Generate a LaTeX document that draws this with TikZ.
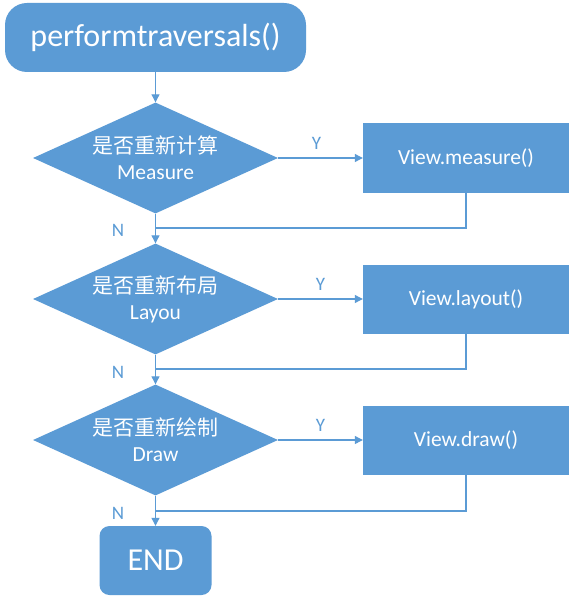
\documentclass[tikz,border=0pt]{standalone}
\usepackage{fontspec}
\setmainfont{Carlito}
\newfontfamily\cjk{Noto Sans CJK SC}
\usetikzlibrary{shapes.geometric,arrows.meta}
\definecolor{ob}{HTML}{5B9BD5}
\begin{document}
\begin{tikzpicture}[x=1pt,y=-1pt,
  term/.style={rectangle, fill=ob, text=white, inner sep=0pt},
  dec/.style={diamond, aspect=2.2, fill=ob, text=white, inner sep=0pt,
    minimum width=245pt, minimum height=111pt, align=center,
    font=\fontsize{21.5}{26}\selectfont},
  proc/.style={rectangle, fill=ob, text=white, inner sep=0pt,
    minimum width=206pt, minimum height=69pt, font=\fontsize{21.5}{24}\selectfont},
  conn/.style={draw=ob, line width=1.1pt, -{Triangle[length=8pt,width=8pt]}},
  plain/.style={draw=ob, line width=1.1pt},
  lbl/.style={text=ob, font=\fontsize{19}{22}\selectfont, inner sep=0pt}]
\useasboundingbox[fill=white] (0,0) rectangle (576,604);
\node[term, rounded corners=22pt, minimum width=301pt, minimum height=69pt,
  font=\fontsize{32}{36}\selectfont] (start) at (155.5,37.5) {performtraversals()};
\node[dec] (d1) at (155.5,158) {{\cjk\fontsize{21}{26}\selectfont 是否重新计算}\\Measure};
\node[dec] (d2) at (155.5,299) {{\cjk\fontsize{21}{26}\selectfont 是否重新布局}\\Layou};
\node[dec] (d3) at (155.5,440) {{\cjk\fontsize{21}{26}\selectfont 是否重新绘制}\\Draw};
\node[proc] (b1) at (466,158) {View.measure()};
\node[proc] (b2) at (466,299) {View.layout()};
\node[proc] (b3) at (466,440) {View.draw()};
\node[term, rounded corners=10pt, minimum width=112pt, minimum height=69pt,
  font=\fontsize{32}{36}\selectfont] (end) at (155.5,560.5) {END};
\coordinate (j1) at (155.5,228);
\coordinate (j2) at (155.5,369);
\coordinate (j3) at (155.5,511);
\draw[conn] (start) -- (d1);
\draw[conn] (d1.east) -- node[lbl, midway, above=8pt, xshift=-4pt] {Y} (b1.west);
\draw[conn] (d2.east) -- node[lbl, midway, above=8pt] {Y} (b2.west);
\draw[conn] (d3.east) -- node[lbl, midway, above=8pt] {Y} (b3.west);
\draw[conn] (d1.south) -- (d2.north);
\draw[conn] (d2.south) -- (d3.north);
\draw[conn] (d3.south) -- (end.north);
\draw[plain] (b1.south) |- (j1);
\draw[plain] (b2.south) |- (j2);
\draw[plain] (b3.south) |- (j3);
\node[lbl] (n1) at (118,230) {N};
\node[lbl] (n2) at (118,372) {N};
\node[lbl] (n3) at (118,513) {N};
\end{tikzpicture}
\end{document}
